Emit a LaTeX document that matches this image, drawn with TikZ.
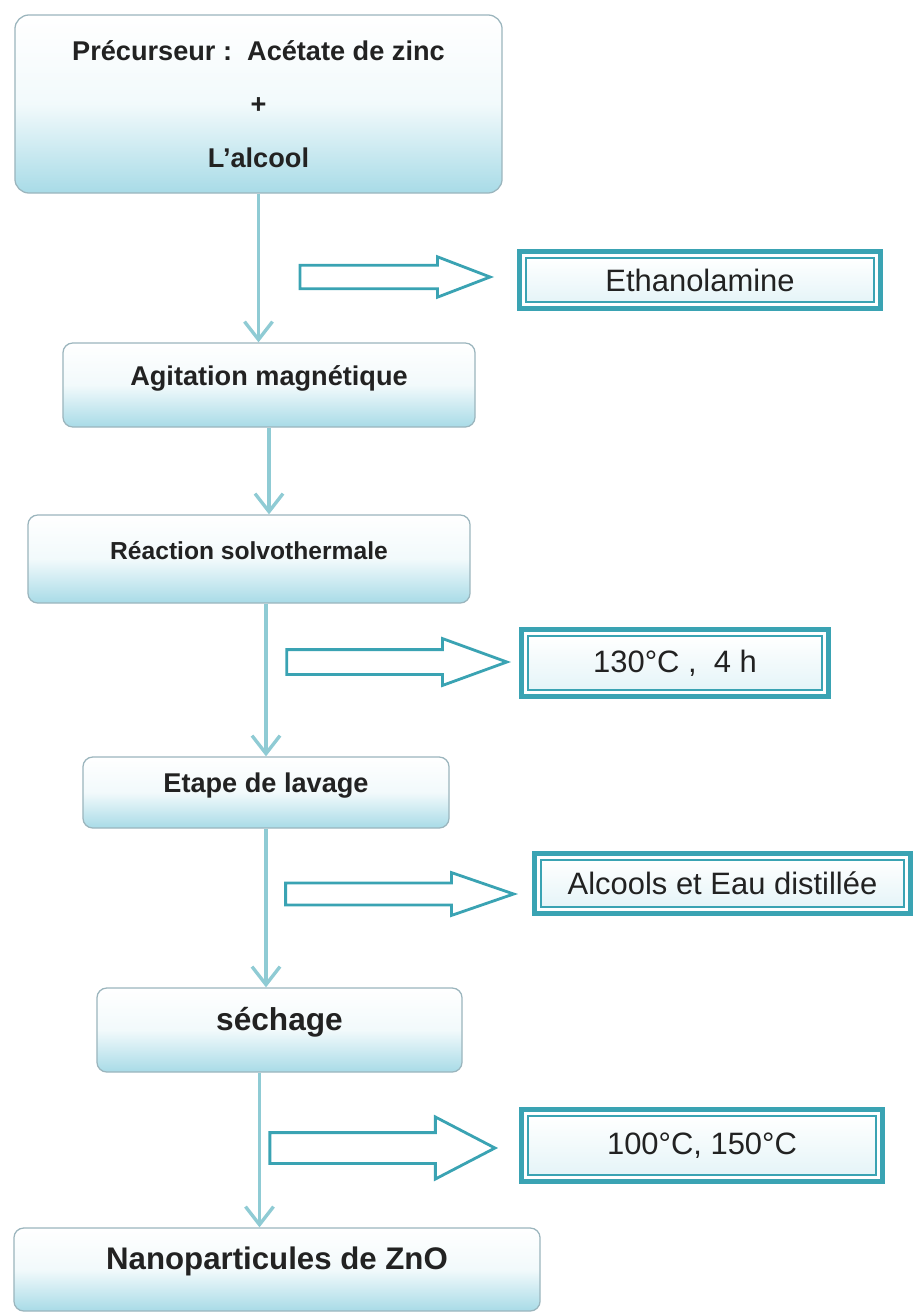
\documentclass[tikz,border=0pt]{standalone}
\usepackage{fontspec}
\setmainfont{Liberation Sans}
\usetikzlibrary{arrows.meta, positioning, calc, shapes.arrows}

\definecolor{boxc}{HTML}{A8DBE7}
\definecolor{boxline}{HTML}{9BB5BD}
\definecolor{flowc}{HTML}{8FCBD4}
\definecolor{tealc}{HTML}{3AA3B3}
\definecolor{textc}{HTML}{222222}

\begin{document}
\begin{tikzpicture}[
  x=0.025cm, y=-0.025cm,
  box/.style = {
    draw=boxline,
    line width=0.9pt,
    rounded corners=7pt,
    top color=white,
    bottom color=boxc,
    middle color=white!85!boxc,
    text=textc,
    inner sep=0pt,
    align=center,
    font=\bfseries\fontsize{19.3}{23}\selectfont
  },
  stepbox/.style = {
    box,
    text height=0.6em,
    text depth=0.6em
  },
  info/.style = {
    draw=tealc,
    line width=1.2pt,
    top color=white,
    bottom color=white!70!boxc,
    text=textc,
    inner sep=0pt,
    font=\fontsize{22}{26}\selectfont
  },
  frame/.style = {draw=tealc, line width=3.5pt},
  hollow/.style = {
    single arrow,
    draw=tealc,
    line width=2pt,
    fill=white,
    inner xsep=0pt,
    anchor=tip
  },
  flow/.style = {draw=flowc, line width=2.4pt, -{Straight Barb[length=0.45cm, width=0.7cm]}}
]
\useasboundingbox (0,0) rectangle (914,1313);

% ======================================================
% MAIN STEPS
% ======================================================

\node[box, rounded corners=10pt, minimum width=12.175cm, minimum height=4.45cm,
      font=\bfseries\fontsize{19.3}{38}\selectfont] (pre) at (258.5,104) {
  Précurseur :\ \ Acétate de zinc\\
  +\\
  L'alcool
};

\node[stepbox, minimum width=10.3cm, minimum height=2.1cm] (agit) at (269,385) {Agitation magnétique};

\node[stepbox, minimum width=11.05cm, minimum height=2.2cm,
      font=\bfseries\fontsize{17.5}{21}\selectfont] (react) at (249,559) {Réaction solvothermale};

\node[stepbox, minimum width=9.15cm, minimum height=1.775cm] (lav) at (266,792.5) {Etape de lavage};

\node[stepbox, minimum width=9.125cm, minimum height=2.1cm,
      font=\bfseries\fontsize{22.5}{27}\selectfont] (sech) at (279.5,1030) {séchage};

\node[stepbox, minimum width=13.15cm, minimum height=2.075cm,
      font=\bfseries\fontsize{22.2}{27}\selectfont] (nano) at (277,1269.5) {Nanoparticules de ZnO};

\draw[flow] (pre.south) -- (pre.south |- agit.north);
\draw[flow] (agit.south) -- (agit.south |- react.north);
\draw[flow] (lav.north |- react.south) -- (lav.north);
\draw[flow] (lav.south) -- (lav.south |- sech.north);
\draw[flow] ([xshift=-0.5cm]sech.south) -- ([xshift=-0.5cm]sech.south |- nano.north);

% ======================================================
% SIDE CONDITIONS
% ======================================================

\node[info, minimum width=8.7cm, minimum height=1.1cm] (ethan) at (700,280) {Ethanolamine};
\node[info, minimum width=7.35cm, minimum height=1.35cm] (temp) at (675,663) {130°C ,\ \ 4 h};
\node[info, minimum width=9.075cm, minimum height=1.175cm] (wash) at (722.5,883.5) {Alcools et Eau distillée};
\node[info, minimum width=8.7cm, minimum height=1.475cm] (dry) at (702,1145.5) {100°C, 150°C};

\foreach \n in {ethan,temp,wash,dry}
  \draw[frame] ($(\n.south west)+(-5.5,5.5)$) rectangle ($(\n.north east)+(5.5,-5.5)$);

\node[hollow, minimum height=4.75cm, inner ysep=0.26cm,
      single arrow head extend=0.21cm, single arrow tip angle=42] (toethan) at (494,277) {};
\node[hollow, minimum height=5.5cm, inner ysep=0.275cm,
      single arrow head extend=0.275cm, single arrow tip angle=40] (totemp) at (511,662) {};
\node[hollow, minimum height=5.7cm, inner ysep=0.24cm,
      single arrow head extend=0.26cm, single arrow tip angle=38] (towash) at (518,894) {};
\node[hollow, minimum height=5.625cm, inner ysep=0.35cm,
      single arrow head extend=0.39cm, single arrow tip angle=55] (todry) at (498,1148) {};

\end{tikzpicture}
\end{document}
